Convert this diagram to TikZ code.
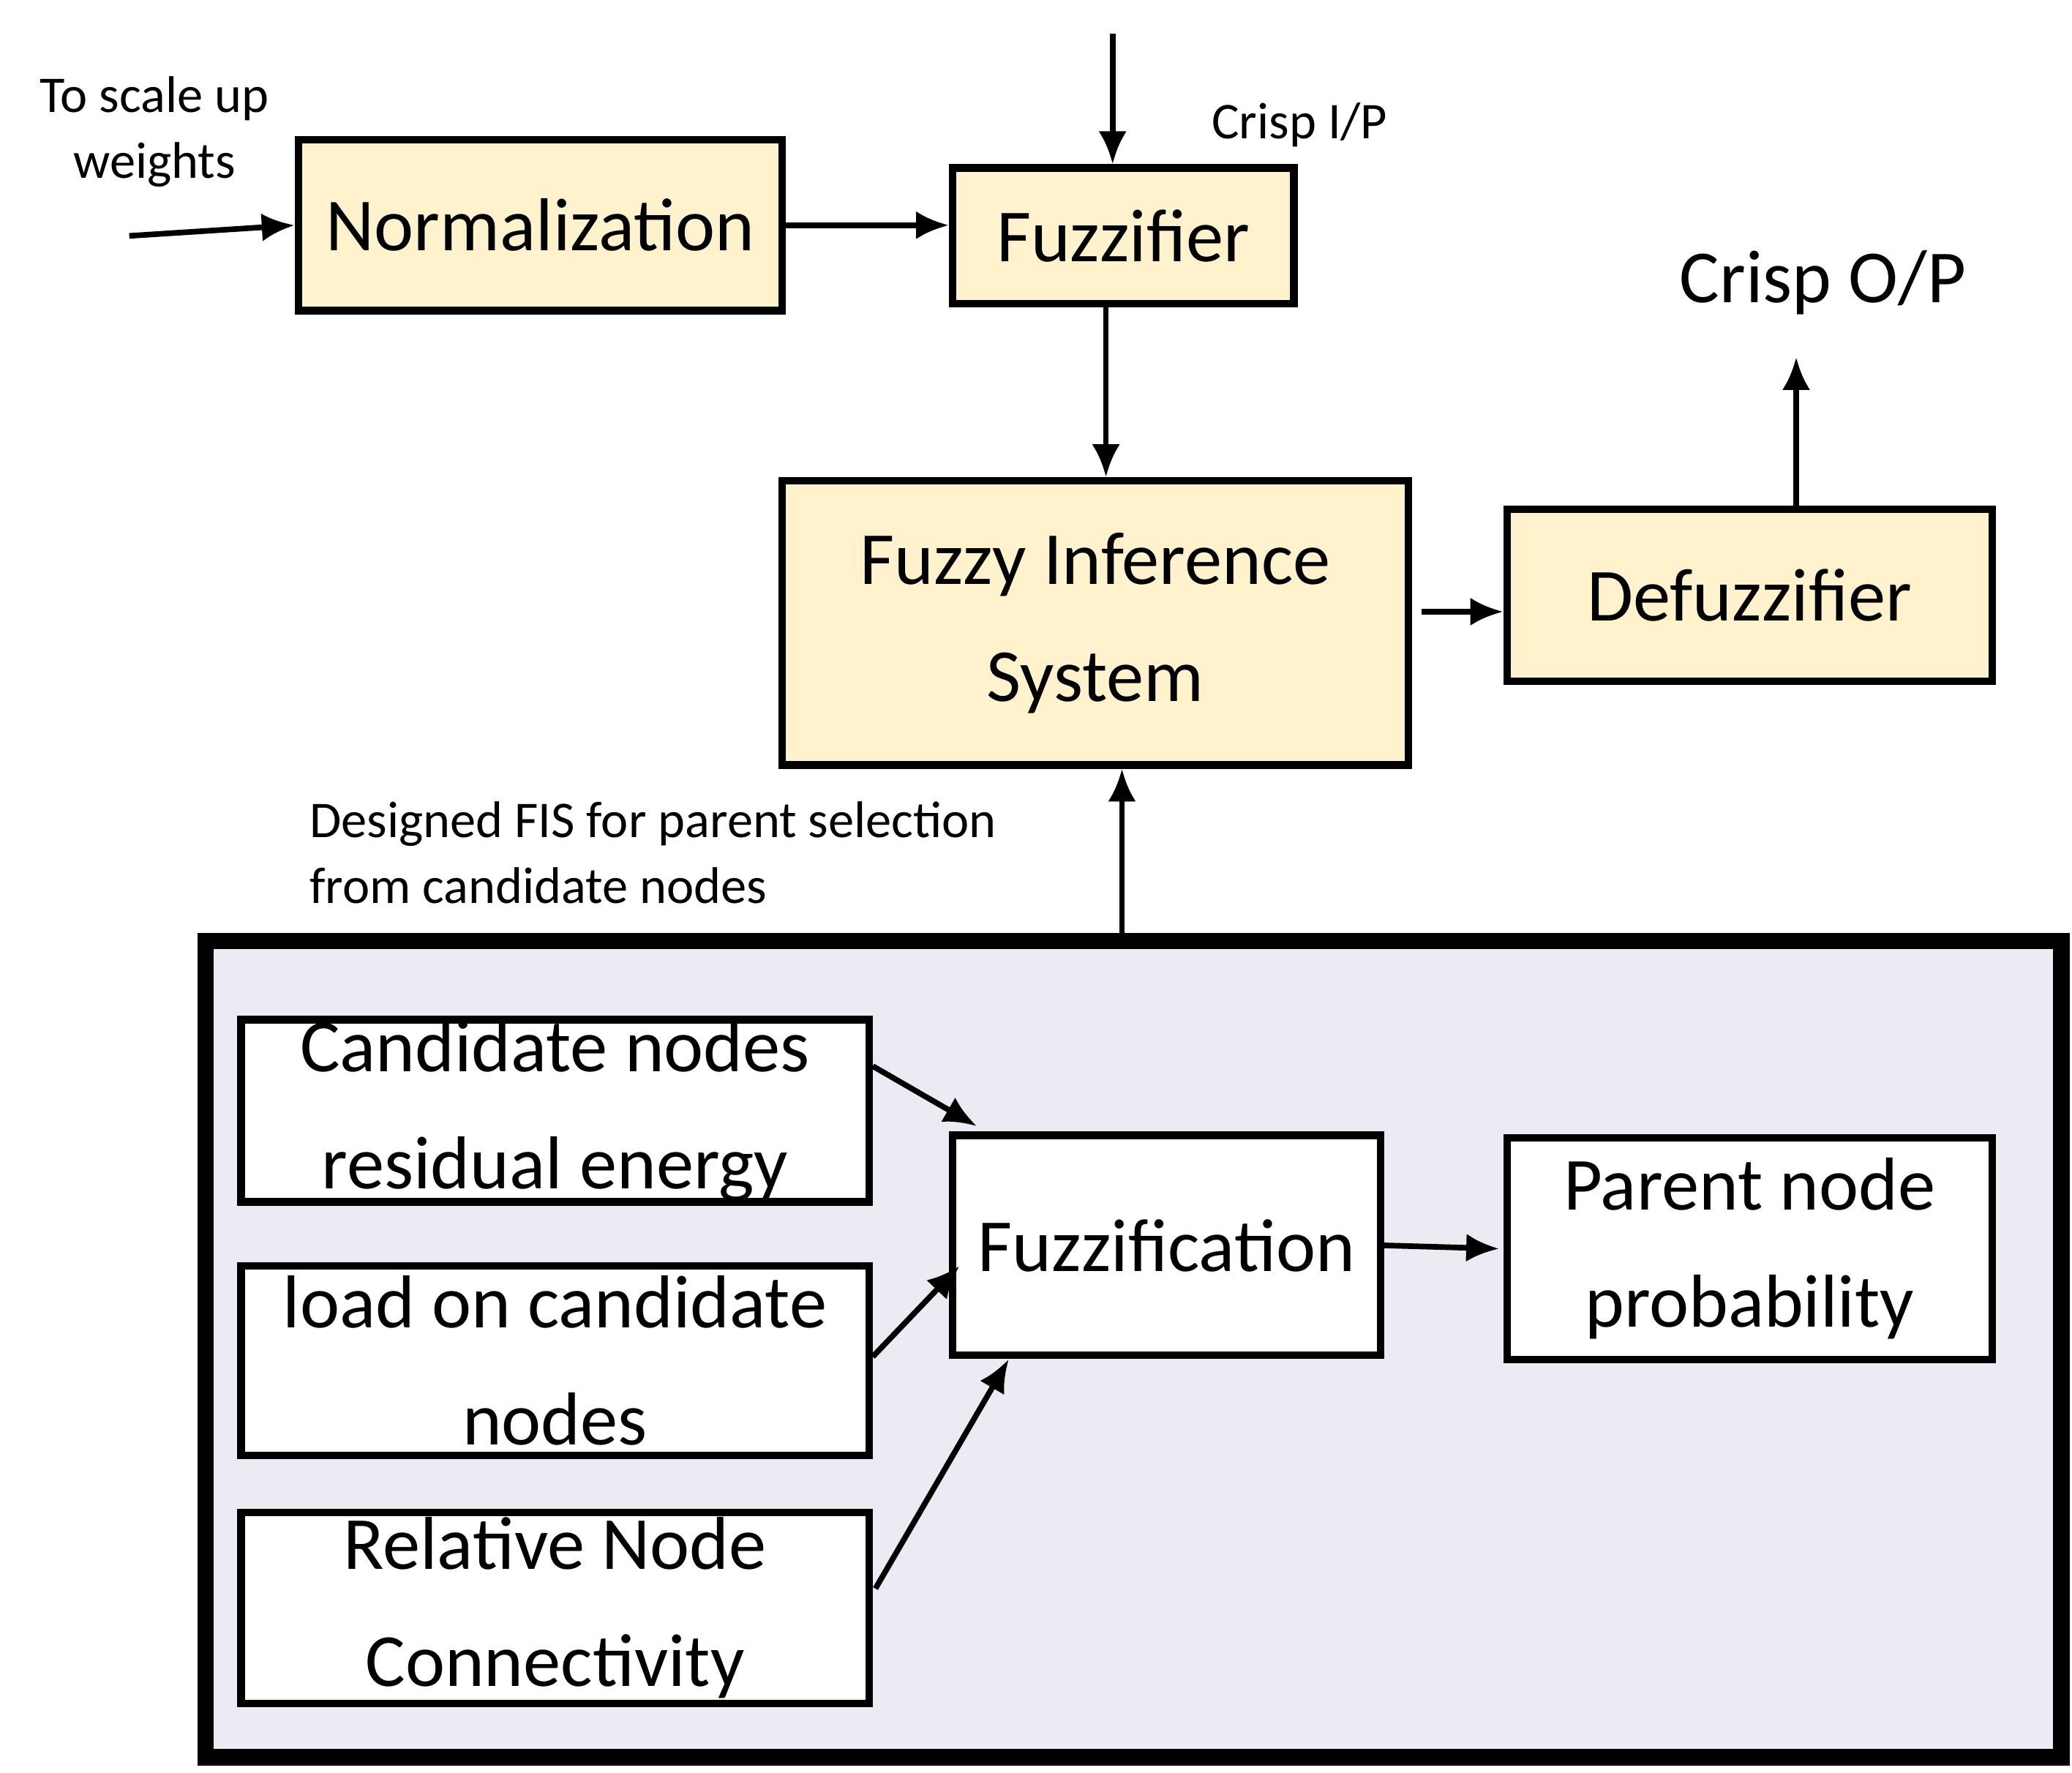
\documentclass[tikz,border=0pt]{standalone}
\usepackage{fontspec}
\setmainfont{Carlito}
\usetikzlibrary{arrows.meta}
\begin{document}
\begin{tikzpicture}[x=0.01cm,y=-0.01cm,
 box/.style={draw,line width=1.6pt,inner sep=0pt,align=center,font=\fontsize{16}{25}\selectfont},
 yb/.style={box,fill=yellow!20!orange!15!white},
 wb/.style={box,fill=white},
 lab/.style={font=\fontsize{11}{14}\selectfont,align=left},
 arr/.style={-{Latex[length=7pt,width=6pt]},line width=1.2pt}]
\useasboundingbox (0,0) rectangle (1555,1330);
\definecolor{lav}{HTML}{ECEAF2}
\definecolor{yel}{HTML}{FFF2CC}
\tikzset{yb/.style={box,fill=yel}}
\node[draw,line width=3.5pt,fill=lav,minimum width=1392\pgflinewidth/\pgflinewidth*0.01cm,minimum height=0.01cm,inner sep=0pt,anchor=north west,
 minimum width=13.92cm,minimum height=6.12cm] (big) at (148,700) {};
\node[yb,minimum width=3.63cm,minimum height=1.28cm] (norm) at (405.5,169) {Normalization};
\node[yb,minimum width=2.56cm,minimum height=1.02cm] (fz) at (843,177) {Fuzzifier};
\node[yb,minimum width=4.70cm,minimum height=2.13cm] (fis) at (822,467.5) {Fuzzy Inference\\System};
\node[yb,minimum width=3.64cm,minimum height=1.29cm] (dfz) at (1313,446.5) {Defuzzifier};
\node[wb,minimum width=4.71cm,minimum height=1.35cm] (cand) at (416.5,833.5) {Candidate nodes\\residual energy};
\node[wb,minimum width=4.71cm,minimum height=1.42cm] (load) at (416.5,1021) {load on candidate\\nodes};
\node[wb,minimum width=4.71cm,minimum height=1.43cm] (rel) at (416.5,1206.5) {Relative Node\\Connectivity};
\node[wb,minimum width=3.21cm,minimum height=1.65cm] (fuz) at (875.5,934.5) {Fuzzification};
\node[wb,minimum width=3.64cm,minimum height=1.66cm] (par) at (1313,937) {Parent node\\probability};
\node[lab,align=center] (scale) at (116,99) {To scale up\\weights};
\node[lab,anchor=west] (cip) at (897,94) {Crisp I/P};
\node[font=\fontsize{16}{20}\selectfont] (cop) at (1368,212) {Crisp O/P};
\node[lab,anchor=west] (des) at (220,640) {Designed FIS for parent selection\\from candidate nodes};
\coordinate (in) at (97,177);
\coordinate (top) at (835,25);
\coordinate (up) at (1348,268);
\draw[arr] (in) -- (norm.west);
\draw[arr] (norm.east) -- (fz.west|-norm.east);
\draw[arr] (top) -- (top|-fz.north);
\draw[arr] (830,228) -- (830,358);
\draw[arr] (1067,459) -- (dfz.west|-0,459);
\draw[arr] (dfz.north-|up) -- (up);
\draw[arr] (big.north-|842,0) -- (fis.south-|842,0);
\draw[arr] (655,800) -- (733,845);
\draw[arr] (655,1018) -- (720,950);
\draw[arr] (657,1192) -- (757,1020);
\draw[arr] (fuz.east) -- (1125,937);
\end{tikzpicture}
\end{document}
